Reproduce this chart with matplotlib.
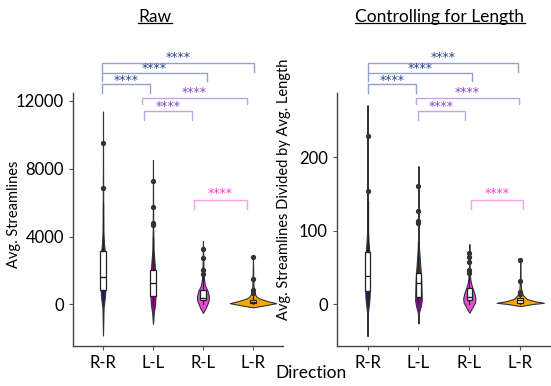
import numpy as np
import matplotlib
matplotlib.use("Agg")
from matplotlib import pyplot as plt
from matplotlib.lines import Line2D
import matplotlib.transforms as mtransforms

plt.rcParams['font.family'] = ['Lato', 'DejaVu Sans']

categories = ['R-R', 'L-L', 'R-L', 'L-R']
colors = ['#1c1c8a', '#8b0a8b', '#f048dc', '#ffa500']

# violin outlines: value levels and relative density
raw_violin_y = [
    [-1830, -200, 300, 800, 1500, 2500, 3100, 3600, 4300, 6000, 11370],
    [-1150, -500, 0, 500, 1200, 2000, 2600, 3200, 4500, 8510],
    [-500, -200, 200, 457, 800, 1100, 1500, 2200, 3750],
    [-170, -50, 75, 200, 350, 457, 700, 1200, 2840],
]
raw_violin_d = [
    [0, 0.025, 0.07, 0.10, 0.11, 0.10, 0.08, 0.04, 0.015, 0.008, 0],
    [0, 0.035, 0.09, 0.11, 0.11, 0.09, 0.06, 0.025, 0.01, 0],
    [0, 0.12, 0.24, 0.26, 0.20, 0.09, 0.04, 0.02, 0],
    [0, 0.52, 1.0, 0.62, 0.28, 0.15, 0.05, 0.02, 0],
]
len_violin_y = [
    [-43.5, -11.8, 0, 10, 18, 40, 70, 85, 100, 150, 270.7],
    [-26.3, -11.8, -3, 5, 12, 30, 42.6, 60, 78, 110, 187.7],
    [-11.8, -5, 2, 7.7, 15, 21, 30, 37, 50, 81.6],
    [-2.7, 0, 1.8, 4, 7, 12, 18, 30, 59.9],
]
len_violin_d = [
    [0, 0.018, 0.06, 0.09, 0.095, 0.10, 0.075, 0.04, 0.018, 0.008, 0],
    [0, 0.022, 0.095, 0.14, 0.135, 0.12, 0.10, 0.06, 0.02, 0.008, 0],
    [0, 0.12, 0.24, 0.26, 0.21, 0.14, 0.06, 0.03, 0.012, 0],
    [0, 0.5, 1.0, 0.6, 0.28, 0.12, 0.04, 0.015, 0],
]

# box plot summaries: whislo, q1, median, q3, whishi, outliers
raw_q1 = [840, 514, 270, 75]
raw_med = [1640, 1257, 400, 170]
raw_q3 = [3126, 2020, 840, 270]
raw_whislo = [30, 20, 10, 0]
raw_whishi = [6000, 4000, 1600, 550]
raw_fliers = [[6876, 9525], [4700, 4800, 5750, 7274],
              [1800, 2040, 2750, 3250], [700, 840, 1500, 2780]]

len_q1 = [18.1, 10, 5.4, 1.8]
len_med = [38.1, 28.1, 10, 5.4]
len_q3 = [70.3, 42.6, 21.3, 9]
len_whislo = [0.5, 0.3, 0, 0]
len_whishi = [140, 85, 40, 13]
len_fliers = [[154.2, 228.6], [111, 113, 126.5, 161],
              [41.8, 46, 57.6, 64.4, 69], [14, 16, 31.3, 59.9]]

# significance comparisons (group index pairs) and their labels
comparisons = [(0, 1), (0, 2), (0, 3), (1, 3), (1, 2), (2, 3)]
comp_labels = ['****'] * 6

# bracket layout (axes fraction heights) and colours
br_top = [1.036, 1.079, 1.121, 0.980, 0.929, 0.579]
br_bot = [1.0, 1.049, 1.085, 0.957, 0.893, 0.540]
br_star = [1.052, 1.096, 1.143, 1.001, 0.946, 0.602]
br_line_col = ['#8fa3d3', '#8fa3d3', '#8fa3d3', '#c9a2e6', '#c9a2e6', '#ff9fe8']
br_star_col = ['#2a4588', '#2a4588', '#2a4588', '#8548cc', '#8548cc', '#ff40d4']
raw_x_shift = [(-0.02, -0.06), (-0.02, 0.08), (-0.02, 0.02), (-0.22, -0.12), (-0.18, -0.22), (-0.18, -0.12)]
len_x_shift = [(0.0, -0.05), (0.0, 0.05), (0.0, -0.04), (-0.05, -0.02), (-0.01, -0.08), (0.03, 0.05)]

VIOLIN_SCALE = 0.465


def draw_panel(ax, vy, vd, q1, med, q3, wlo, whi, fliers, x_shift):
    for i, (yy, dd) in enumerate(zip(vy, vd)):
        yy = np.array(yy, dtype=float)
        dd = np.array(dd, dtype=float) * VIOLIN_SCALE
        ax.fill_betweenx(yy, i - dd, i + dd, facecolor=colors[i],
                         edgecolor='#333333', lw=0.8, zorder=2)
    stats = []
    for i in range(len(categories)):
        stats.append(dict(whislo=wlo[i], q1=q1[i], med=med[i], q3=q3[i],
                          whishi=whi[i], fliers=fliers[i]))
    ax.bxp(stats, positions=range(len(categories)), widths=0.11,
           patch_artist=True, showcaps=False, manage_ticks=False,
           boxprops=dict(facecolor='white', edgecolor='#222222', lw=0.9),
           medianprops=dict(color='#222222', lw=1.0),
           whiskerprops=dict(color='#222222', lw=0.9),
           flierprops=dict(marker='o', markerfacecolor='#333333',
                           markeredgecolor='#333333', markersize=2.8),
           zorder=3)

    trans = mtransforms.blended_transform_factory(ax.transData, ax.transAxes)
    for k, (a, b) in enumerate(comparisons):
        x1 = a + x_shift[k][0]
        x2 = b + x_shift[k][1]
        ax.add_line(Line2D([x1, x1, x2, x2], [br_bot[k], br_top[k], br_top[k], br_bot[k]],
                           transform=trans, color=br_line_col[k], lw=1.0, clip_on=False))
        ax.text((x1 + x2) / 2, br_star[k], comp_labels[k], transform=trans,
                ha='center', va='center', fontsize=9, color=br_star_col[k],
                family=['DejaVu Sans'], clip_on=False)

    ax.set_xlim(-0.6, 3.6)
    ax.set_xticks(range(len(categories)))
    ax.set_xticklabels(categories, fontsize=12)
    ax.tick_params(axis='both', labelsize=12, length=3, color='#555555')
    for s in ['top', 'right']:
        ax.spines[s].set_visible(False)
    for s in ['left', 'bottom']:
        ax.spines[s].set_color('#444444')
        ax.spines[s].set_linewidth(1.0)


fig = plt.figure(figsize=(5.51, 3.86), dpi=100)
ax1 = fig.add_axes([0.1325, 0.1036, 0.381, 0.655])
ax2 = fig.add_axes([0.6116, 0.1036, 0.388, 0.655])

draw_panel(ax1, raw_violin_y, raw_violin_d, raw_q1, raw_med, raw_q3,
           raw_whislo, raw_whishi, raw_fliers, raw_x_shift)
draw_panel(ax2, len_violin_y, len_violin_d, len_q1, len_med, len_q3,
           len_whislo, len_whishi, len_fliers, len_x_shift)

ax1.set_ylim(-2450, 12450)
ax1.set_yticks([0, 4000, 8000, 12000])
ax2.set_ylim(-57, 287)
ax2.set_yticks([0, 100, 200])

ax1.set_ylabel('Avg. Streamlines', fontsize=10.5)
ax1.yaxis.set_label_coords(-0.25, 0.52)
ax2.set_ylabel('Avg. Streamlines Divided by Avg. Length', fontsize=10.5)
ax2.yaxis.set_label_coords(-0.215, 0.62)

fig.text(311 / 551, 1 - 373 / 386, 'Direction', ha='center', va='center', fontsize=12.5)

t1 = fig.text(155 / 551, 1 - 17 / 386, 'Raw', ha='center', va='center', fontsize=12.5)
t2 = fig.text(440 / 551, 1 - 17 / 386, 'Controlling for Length', ha='center', va='center', fontsize=12.5)

# underline the two titles, just under the baseline
fig.canvas.draw()
r = fig.canvas.get_renderer()
for t in (t1, t2):
    bb = t.get_window_extent(renderer=r)
    yline = bb.y0 + 0.12 * bb.height
    x0, y0 = fig.transFigure.inverted().transform((bb.x0, yline))
    x1, _ = fig.transFigure.inverted().transform((bb.x1, yline))
    fig.add_artist(Line2D([x0, x1], [y0, y0], transform=fig.transFigure,
                          color='black', lw=0.9))

fig.savefig('out.png', dpi=100)
